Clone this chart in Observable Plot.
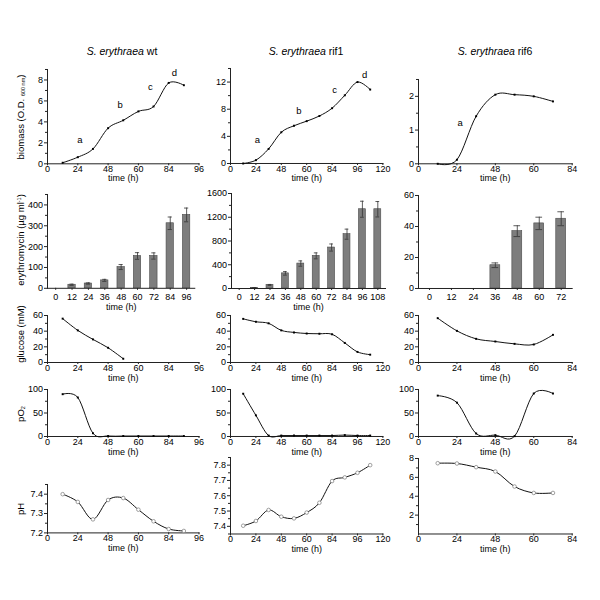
<!DOCTYPE html>
<html><head><meta charset="utf-8">
<script src="https://cdn.jsdelivr.net/npm/d3@7"></script>
<script src="https://cdn.jsdelivr.net/npm/@observablehq/plot@0.6"></script>
<style>
body{margin:0;background:#fff;font-family:"Liberation Sans",Arial,Helvetica,sans-serif;color:#000;}
#root{position:relative;width:600px;height:600px;overflow:hidden;background:#fff;}
.title{position:absolute;font-size:10.5px;transform:translateX(-50%);white-space:nowrap;}
.ylab{position:absolute;font-size:9.5px;white-space:nowrap;transform:translate(-50%,-50%) rotate(-90deg);}
.ylab sub{font-size:5.5px;vertical-align:-1px;}
.ylab sup{font-size:5.5px;vertical-align:3px;}
</style></head><body><div id="root"></div><script>
// ---------- data ----------
const species = "S. erythraea";
const strains = ["wt", "rif1", "rif6"];
const timeLabel = "time (h)";
const yLabels = ["biomass (O.D. <sub>600 nm</sub>)", "erythromycin (µg ml<sup>-1</sup>)", "glucose (mM)", "pO<sub>2</sub>", "pH"];

// x tick labels of the line panels (as printed, evenly spaced)
const xTicksWt = [0, 24, 48, 60, 84, 96];
const xTicksRif1 = [0, 24, 48, 60, 84, 96, 120];
const xTicksRif6 = [0, 24, 48, 60, 84];

// sampling times (h)
const timeWt = [12, 24, 36, 48, 54, 60, 72, 84, 90];
const timeRif1 = [12, 24, 36, 48, 54, 60, 72, 84, 90, 96, 108];
const timeRif6 = [12, 24, 36, 48, 54, 60, 72];

// biomass (O.D. 600 nm)
const biomassWt = [0.1, 0.63, 1.42, 3.4, 4.15, 5.0, 5.47, 7.72, 7.5];
const biomassRif1 = [0, 0.49, 2.15, 4.6, 5.56, 6.24, 7.0, 8.15, 10.05, 12.0, 10.9];
const biomassRif6 = [0, 0.12, 1.41, 2.05, 2.05, 2.0, 1.85];

// growth phase labels
const phaseWt = ["a", "b", "c", "d"];
const phaseTimeWt = [25.7, 52.8, 69.4, 86.3];
const phaseValWt = [2.3, 5.6, 7.3, 8.65];
const phaseRif1 = ["a", "b", "c", "d"];
const phaseTimeRif1 = [25.4, 56.3, 85.2, 102.7];
const phaseValRif1 = [3.4, 7.8, 10.8, 13.0];
const phaseRif6 = ["a"];
const phaseTimeRif6 = [26];
const phaseValRif6 = [1.22];

// erythromycin (µg/ml)
const eryTimeWt = ["0", "12", "24", "36", "48", "60", "72", "84", "96"];
const eryWt = [0, 17, 23, 38, 102, 155, 155, 312, 352];
const eryErrWt = [0, 3, 3, 5, 12, 16, 15, 30, 33];
const eryTimeRif1 = ["0", "12", "24", "36", "48", "60", "72", "84", "96", "108"];
const eryRif1 = [0, 10, 60, 255, 420, 550, 690, 915, 1335, 1335];
const eryErrRif1 = [0, 5, 8, 30, 45, 50, 60, 85, 135, 130];
const eryTimeRif6 = ["0", "12", "24", "36", "48", "60", "72"];
const eryRif6 = [0, 0, 0, 15, 37, 42, 45];
const eryErrRif6 = [0, 0, 0, 1.5, 3.5, 4, 4.5];

// glucose (mM)
const glucoseTimeWt = [12, 24, 36, 48, 54];
const glucoseWt = [56, 41, 29.5, 18.8, 4.8];
const glucoseRif1 = [55.7, 52, 50, 41, 38.4, 37, 36.7, 36, 25, 13.5, 10];
const glucoseRif6 = [56.6, 40.4, 30.2, 26.8, 23.8, 23, 35.3];

// pO2
const pO2Wt = [90, 83, 7, 1, 1, 1, 1, 1, 1];
const pO2Rif1 = [91, 45, 2, 2, 2, 2, 2, 2, 3, 2, 2];
const pO2Rif6 = [87, 72, 6.4, 2.8, 0.7, 91.5, 91.5];

// pH
const pHWt = [7.40, 7.36, 7.27, 7.37, 7.38, 7.32, 7.26, 7.22, 7.21];
const pHRif1 = [7.404, 7.435, 7.507, 7.463, 7.452, 7.49, 7.554, 7.696, 7.72, 7.75, 7.80];
const pHRif6 = [7.5, 7.47, 7.08, 6.62, 5.03, 4.35, 4.35];

// ---------- layout ----------
const root = document.getElementById("root");
const FONT = "'Liberation Sans', Arial, Helvetica, sans-serif";
const cols = [
  {lx0: 47, lx1: 198.5, bx0: 46.7, bx1: 194, cx: 122},
  {lx0: 230.3, lx1: 382.7, bx0: 231, bx1: 385, cx: 306},
  {lx0: 418.3, lx1: 572, bx0: 418, bx1: 571.7, cx: 495}
];

function zip(t, v) { return t.map((d, i) => ({t: d, v: v[i]})); }
const fmt = d => String(d);

function place(svg, left, top) {
  svg.style.position = "absolute";
  svg.style.left = left + "px";
  svg.style.top = top + "px";
  svg.style.background = "transparent";
  svg.style.overflow = "visible";
  root.appendChild(svg);
}

function yAxisMarks(major, minor) {
  return [
    Plot.axisY({ticks: minor, tickSize: 2, tickFormat: () => "", label: null, stroke: "#222"}),
    Plot.axisY({ticks: major, tickSize: 3, tickPadding: 1.5, tickFormat: fmt, label: null, stroke: "#222", fill: "#000"}),
    Plot.frame({anchor: "left", stroke: "#222"})
  ];
}

function linePanel(c, o) {
  const mL = 34, mR = 14, mT = 6, mB = 26;
  const x0 = c.lx0, x1 = c.lx1;
  const width = mL + (x1 - x0) + mR;
  const height = mT + (o.ybot - o.ytop) + mB;
  const rows = zip(o.time, o.values);
  const marks = [
    ...yAxisMarks(o.major, o.minor),
    Plot.axisX({ticks: o.xticks, tickSize: 2, tickPadding: 0, tickFormat: fmt, label: null, stroke: "#222", fill: "#000"}),
    Plot.frame({anchor: "bottom", stroke: "#222"}),
    Plot.text([timeLabel], {text: d => d, frameAnchor: "bottom", dy: o.timeDy, lineAnchor: "middle", fill: "#000"}),
    Plot.line(rows, {x: "t", y: "v", curve: "cardinal", stroke: "#111", strokeWidth: 1})
  ];
  if (o.open) marks.push(Plot.dot(rows, {x: "t", y: "v", r: 1.8, fill: "white", stroke: "#888", strokeWidth: 0.8}));
  else marks.push(Plot.dot(rows, {x: "t", y: "v", r: 1.1, symbol: "square", fill: "#000"}));
  if (o.labels) {
    const lab = o.labels.map((s, i) => ({s, t: o.labelTime[i], v: o.labelVal[i]}));
    marks.push(Plot.text(lab, {x: "t", y: "v", text: "s", fontSize: 9.5, fill: "#000"}));
  }
  const svg = Plot.plot({
    width, height, marginLeft: mL, marginRight: mR, marginTop: mT, marginBottom: mB,
    style: {fontFamily: FONT, fontSize: "9px", color: "#000", background: "transparent"},
    x: {type: "linear", domain: o.xticks},
    y: {domain: o.ydomain},
    marks
  });
  place(svg, x0 - mL, o.ytop - mT);
}

function barPanel(c, o) {
  const mL = 34, mR = 14, mT = 6, mB = 26;
  const x0 = c.bx0, x1 = c.bx1;
  const width = mL + (x1 - x0) + mR;
  const height = mT + (o.ybot - o.ytop) + mB;
  const rows = o.cats.map((t, i) => ({t, v: o.values[i], e: o.errs[i]}));
  const errRows = rows.filter(d => d.e > 0);
  const marks = [
    ...yAxisMarks(o.major, o.minor),
    Plot.axisX({tickSize: 2, tickPadding: 3, label: null, stroke: "#222", fill: "#000"}),
    Plot.barY(rows.filter(d => d.v > 0), {x: "t", y: "v", fill: "#7d7d7d", stroke: "#4a4a4a", strokeWidth: 0.6}),
    Plot.ruleX(errRows, {x: "t", y1: d => d.v - d.e, y2: d => d.v + d.e, stroke: "#333", strokeWidth: 0.8}),
    Plot.tickY(errRows, {x: "t", y: d => d.v + d.e, stroke: "#333", strokeWidth: 0.8, insetLeft: 1.6, insetRight: 1.6}),
    Plot.tickY(errRows, {x: "t", y: d => d.v - d.e, stroke: "#333", strokeWidth: 0.8, insetLeft: 1.6, insetRight: 1.6}),
    Plot.frame({anchor: "bottom", stroke: "#222"})
  ];
  if (o.timeDy) marks.push(Plot.text([timeLabel], {text: d => d, frameAnchor: "bottom", dy: o.timeDy, lineAnchor: "middle", fill: "#000"}));
  const svg = Plot.plot({
    width, height, marginLeft: mL, marginRight: mR, marginTop: mT, marginBottom: mB,
    style: {fontFamily: FONT, fontSize: "9px", color: "#000", background: "transparent"},
    x: {type: "band", domain: o.cats, paddingInner: 0.55, paddingOuter: 0.275, round: false},
    y: {domain: o.ydomain},
    marks
  });
  place(svg, x0 - mL, o.ytop - mT);
}

// titles
strains.forEach((s, i) => {
  const d = document.createElement("div");
  d.className = "title";
  d.style.left = cols[i].cx + "px";
  d.style.top = "45px";
  d.innerHTML = `<i>${species}</i> ${s}`;
  root.appendChild(d);
});

// y labels (first column)
const ylabPos = [[20, 116.5], [20, 240], [20, 334], [20, 414], [20, 509]];
yLabels.forEach((t, i) => {
  const d = document.createElement("div");
  d.className = "ylab";
  d.style.left = ylabPos[i][0] + "px";
  d.style.top = ylabPos[i][1] + "px";
  d.innerHTML = t;
  root.appendChild(d);
});

// row 1: biomass
linePanel(cols[0], {xticks: xTicksWt, time: timeWt, values: biomassWt, ydomain: [0, 9], major: [0, 2, 4, 6, 8], minor: [1, 3, 5, 7, 9],
  ytop: 69, ybot: 163.3, timeDy: 14.4, labels: phaseWt, labelTime: phaseTimeWt, labelVal: phaseValWt});
linePanel(cols[1], {xticks: xTicksRif1, time: timeRif1, values: biomassRif1, ydomain: [0, 14], major: [0, 4, 8, 12], minor: [2, 6, 10, 14],
  ytop: 68.3, ybot: 163.3, timeDy: 14.4, labels: phaseRif1, labelTime: phaseTimeRif1, labelVal: phaseValRif1});
linePanel(cols[2], {xticks: xTicksRif6, time: timeRif6, values: biomassRif6, ydomain: [0, 2.5], major: [0, 1, 2], minor: [0.5, 1.5, 2.5],
  ytop: 79, ybot: 163.3, timeDy: 14.4, labels: phaseRif6, labelTime: phaseTimeRif6, labelVal: phaseValRif6});

// row 2: erythromycin
barPanel(cols[0], {cats: eryTimeWt, values: eryWt, errs: eryErrWt, ydomain: [0, 450], major: [0, 100, 200, 300, 400], minor: [50, 150, 250, 350, 450],
  ytop: 193.6, ybot: 287.4, timeDy: 18.4});
barPanel(cols[1], {cats: eryTimeRif1, values: eryRif1, errs: eryErrRif1, ydomain: [0, 1600], major: [0, 400, 800, 1200, 1600], minor: [200, 600, 1000, 1400],
  ytop: 193.3, ybot: 288.3, timeDy: 18.4});
barPanel(cols[2], {cats: eryTimeRif6, values: eryRif6, errs: eryErrRif6, ydomain: [0, 60], major: [0, 20, 40, 60], minor: [10, 30, 50],
  ytop: 194.7, ybot: 287.7, timeDy: 0});

// row 3: glucose
linePanel(cols[0], {xticks: xTicksWt, time: glucoseTimeWt, values: glucoseWt, ydomain: [0, 60], major: [0, 20, 40, 60], minor: [10, 30, 50],
  ytop: 315, ybot: 362, timeDy: 15.7});
linePanel(cols[1], {xticks: xTicksRif1, time: timeRif1, values: glucoseRif1, ydomain: [0, 60], major: [0, 20, 40, 60], minor: [10, 30, 50],
  ytop: 315, ybot: 362, timeDy: 15.7});
linePanel(cols[2], {xticks: xTicksRif6, time: timeRif6, values: glucoseRif6, ydomain: [0, 60], major: [0, 20, 40, 60], minor: [10, 30, 50],
  ytop: 315, ybot: 362, timeDy: 15.7});

// row 4: pO2
linePanel(cols[0], {xticks: xTicksWt, time: timeWt, values: pO2Wt, ydomain: [0, 100], major: [0, 50, 100], minor: [25, 75],
  ytop: 389, ybot: 436, timeDy: 15.7});
linePanel(cols[1], {xticks: xTicksRif1, time: timeRif1, values: pO2Rif1, ydomain: [0, 100], major: [0, 50, 100], minor: [25, 75],
  ytop: 389, ybot: 436, timeDy: 15.7});
linePanel(cols[2], {xticks: xTicksRif6, time: timeRif6, values: pO2Rif6, ydomain: [0, 100], major: [0, 50, 100], minor: [25, 75],
  ytop: 389, ybot: 436, timeDy: 15.7});

// row 5: pH
linePanel(cols[0], {xticks: xTicksWt, time: timeWt, values: pHWt, ydomain: [7.2, 7.45], major: [7.2, 7.3, 7.4], minor: [7.25, 7.35, 7.45],
  ytop: 484.3, ybot: 532.7, timeDy: 15.6, open: true});
linePanel(cols[1], {xticks: xTicksRif1, time: timeRif1, values: pHRif1, ydomain: [7.35, 7.85], major: [7.4, 7.5, 7.6, 7.7, 7.8], minor: [7.35, 7.45, 7.55, 7.65, 7.75, 7.85],
  ytop: 456.5, ybot: 533, timeDy: 15.6, open: true});
linePanel(cols[2], {xticks: xTicksRif6, time: timeRif6, values: pHRif6, ydomain: [0, 8], major: [2, 4, 6, 8], minor: [1, 3, 5, 7],
  ytop: 458, ybot: 533.5, timeDy: 15.6, open: true});
</script></body></html>
